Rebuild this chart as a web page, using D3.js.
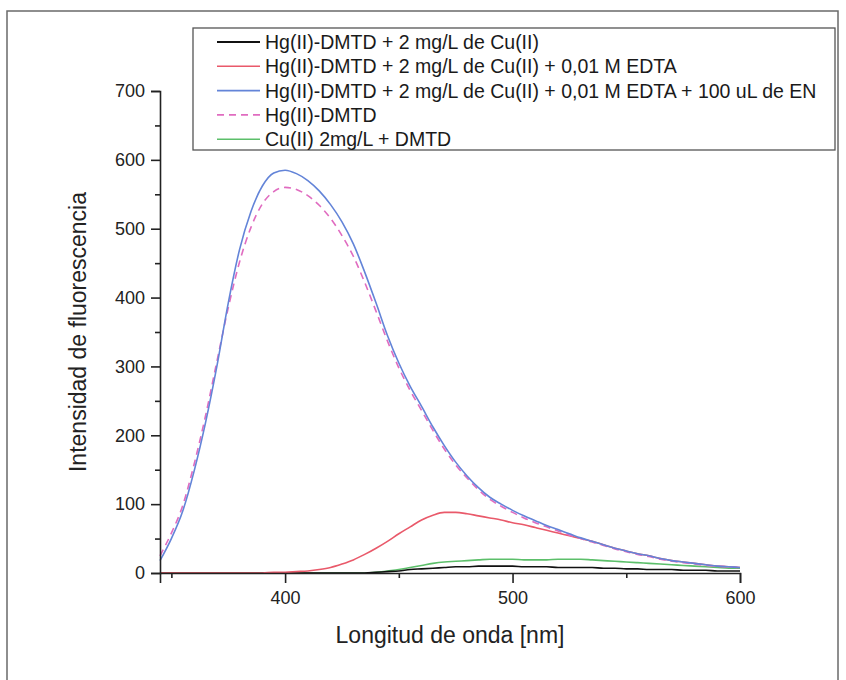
<!DOCTYPE html>
<html>
<head>
<meta charset="utf-8">
<script src="https://cdn.jsdelivr.net/npm/d3@7"></script>
<style>
  html, body { margin: 0; padding: 0; background: #fff; }
  svg { display: block; font-family: Arial, "Liberation Sans", sans-serif; }
</style>
</head>
<body>
<svg id="chart" width="846" height="680"></svg>
<script>
// Emission wavelengths (nm)
const wavelengths = [345,350,355,360,365,370,375,380,385,390,395,400,405,410,415,420,425,430,435,440,
  445,450,455,460,465,470,475,480,485,490,495,500,505,510,515,520,525,530,535,540,
  545,550,555,560,565,570,575,580,585,590,595,600];

// Fluorescence intensity of each sample
const cuOnly = [0,0,0,0,0,0,0,0,0,0,0,0,0,0,0,0,0,0,0,1,
  2,3,5,6,7,8,9,9,10,10,10,10,9,9,9,8,8,8,8,7,
  7,6,6,5,5,5,4,4,4,3,3,3];
const cuEdta = [0,0,0,0,0,0,0,0,0,0,1,1,2,3,5,8,13,19,27,36,
  46,57,67,77,84,88,88,86,83,80,77,73,70,66,62,58,54,50,46,41,
  36,32,28,25,21,18,16,14,12,10,9,8];
const cuEdtaEn = [18,50,90,148,218,300,392,470,525,562,581,585,580,570,555,535,510,478,437,392,
  345,305,271,242,212,185,161,141,124,110,100,91,83,76,69,63,57,51,46,41,
  36,32,28,25,21,18,16,14,12,10,9,8];
const hgDmtd = [25,58,98,158,228,307,385,452,502,536,554,560,557,548,534,515,490,460,422,380,
  337,298,265,236,207,180,157,138,121,107,97,88,80,73,67,61,55,50,45,40,
  35,31,27,24,20,17,15,13,11,10,9,8];
const cuDmtd = [0,0,0,0,0,0,0,0,0,0,0,0,0,0,0,0,0,0,0,1,
  3,5,8,11,14,16,17,18,19,20,20,20,19,19,19,20,20,20,19,18,
  17,16,15,14,13,12,11,10,9,8,7,7];

const seriesNames = [
  "Hg(II)-DMTD + 2 mg/L de Cu(II)",
  "Hg(II)-DMTD + 2 mg/L de Cu(II) + 0,01 M EDTA",
  "Hg(II)-DMTD + 2 mg/L de Cu(II) + 0,01 M EDTA + 100 uL de EN",
  "Hg(II)-DMTD",
  "Cu(II) 2mg/L + DMTD"
];
const seriesValues = [cuOnly, cuEdta, cuEdtaEn, hgDmtd, cuDmtd];

const xMajorTicks = [400, 500, 600];
const xMinorTicks = [350, 450, 550];
const yMajorTicks = [0, 100, 200, 300, 400, 500, 600, 700];
const yMinorTicks = [50, 150, 250, 350, 450, 550, 650];

const xTitle = "Longitud de onda [nm]";
const yTitle = "Intensidad de fluorescencia";

// Line styles per series
const colors = ["#111111", "#e9596a", "#6384d8", "#e06cc0", "#5cbf6a"];
const dashes = [null, null, null, "7,5", null];

const svg = d3.select("#chart");

// Page frame
svg.append("rect")
  .attr("x", 7).attr("y", 11)
  .attr("width", 831).attr("height", 700)
  .attr("fill", "none").attr("stroke", "#6a6a6a").attr("stroke-width", 1.5);

const plot = { left: 160, right: 740, top: 91, bottom: 573 };

const x = d3.scaleLinear().domain([345, 600]).range([plot.left, plot.right]);
const y = d3.scaleLinear().domain([0, 700]).range([plot.bottom, plot.top]);

// Curves (drawn first so axes sit on top)
const line = d3.line()
  .x((d, i) => x(wavelengths[i]))
  .y(d => y(d))
  .curve(d3.curveMonotoneX);

const drawOrder = [4, 0, 1, 3, 2];
drawOrder.forEach(k => {
  svg.append("path")
    .datum(seriesValues[k])
    .attr("d", line)
    .attr("fill", "none")
    .attr("stroke", colors[k])
    .attr("stroke-width", 1.6)
    .attr("stroke-dasharray", dashes[k]);
});

// Axes
const axisColor = "#222";
const gx = svg.append("g").attr("transform", `translate(0,${plot.bottom})`);
gx.call(d3.axisBottom(x).tickValues(xMajorTicks).tickSize(10).tickPadding(8).tickFormat(d3.format("d")));
const gxMinor = svg.append("g").attr("transform", `translate(0,${plot.bottom})`);
gxMinor.call(d3.axisBottom(x).tickValues(xMinorTicks).tickSize(5).tickFormat(""));

const gy = svg.append("g").attr("transform", `translate(${plot.left},0)`);
gy.call(d3.axisLeft(y).tickValues(yMajorTicks).tickSize(9).tickPadding(6).tickFormat(d3.format("d")));
const gyMinor = svg.append("g").attr("transform", `translate(${plot.left},0)`);
gyMinor.call(d3.axisLeft(y).tickValues(yMinorTicks).tickSize(5).tickFormat(""));

[gx, gxMinor, gy, gyMinor].forEach(g => {
  g.selectAll(".domain").attr("stroke", axisColor).attr("stroke-width", 1.6);
  g.selectAll(".tick line").attr("stroke", axisColor).attr("stroke-width", 1.6);
  g.selectAll(".tick text").attr("fill", "#222").style("font-size", "18px")
    .style("font-family", "Arial, 'Liberation Sans', sans-serif");
});
gxMinor.select(".domain").remove();
gyMinor.select(".domain").remove();

// Axis titles
svg.append("text")
  .attr("x", (plot.left + plot.right) / 2).attr("y", 643)
  .attr("text-anchor", "middle")
  .style("font-size", "23px").attr("fill", "#222")
  .text(xTitle);

svg.append("text")
  .attr("transform", `translate(86,${(plot.top + plot.bottom) / 2}) rotate(-90)`)
  .attr("text-anchor", "middle")
  .style("font-size", "23px").attr("fill", "#222")
  .text(yTitle);

// Legend
const legend = svg.append("g");
const rowY = i => 42 + i * 24.3;
legend.append("rect")
  .attr("x", 193).attr("y", 28)
  .attr("width", 835 - 193).attr("height", 122)
  .attr("fill", "#fff").attr("stroke", "#555").attr("stroke-width", 1.3);
const legendItems = legend.selectAll("g.item")
  .data(seriesNames)
  .join("g").attr("class", "item");
legendItems.append("line")
  .attr("x1", 217).attr("x2", 260)
  .attr("y1", (d, i) => rowY(i)).attr("y2", (d, i) => rowY(i))
  .attr("stroke", (d, i) => colors[i])
  .attr("stroke-width", (d, i) => i === 0 ? 2 : 1.6)
  .attr("stroke-dasharray", (d, i) => dashes[i]);
legendItems.append("text")
  .attr("x", 265).attr("y", (d, i) => rowY(i))
  .attr("dy", "0.36em")
  .style("font-size", "19.5px").attr("fill", "#1a1a1a")
  .text(d => d);
</script>
</body>
</html>
